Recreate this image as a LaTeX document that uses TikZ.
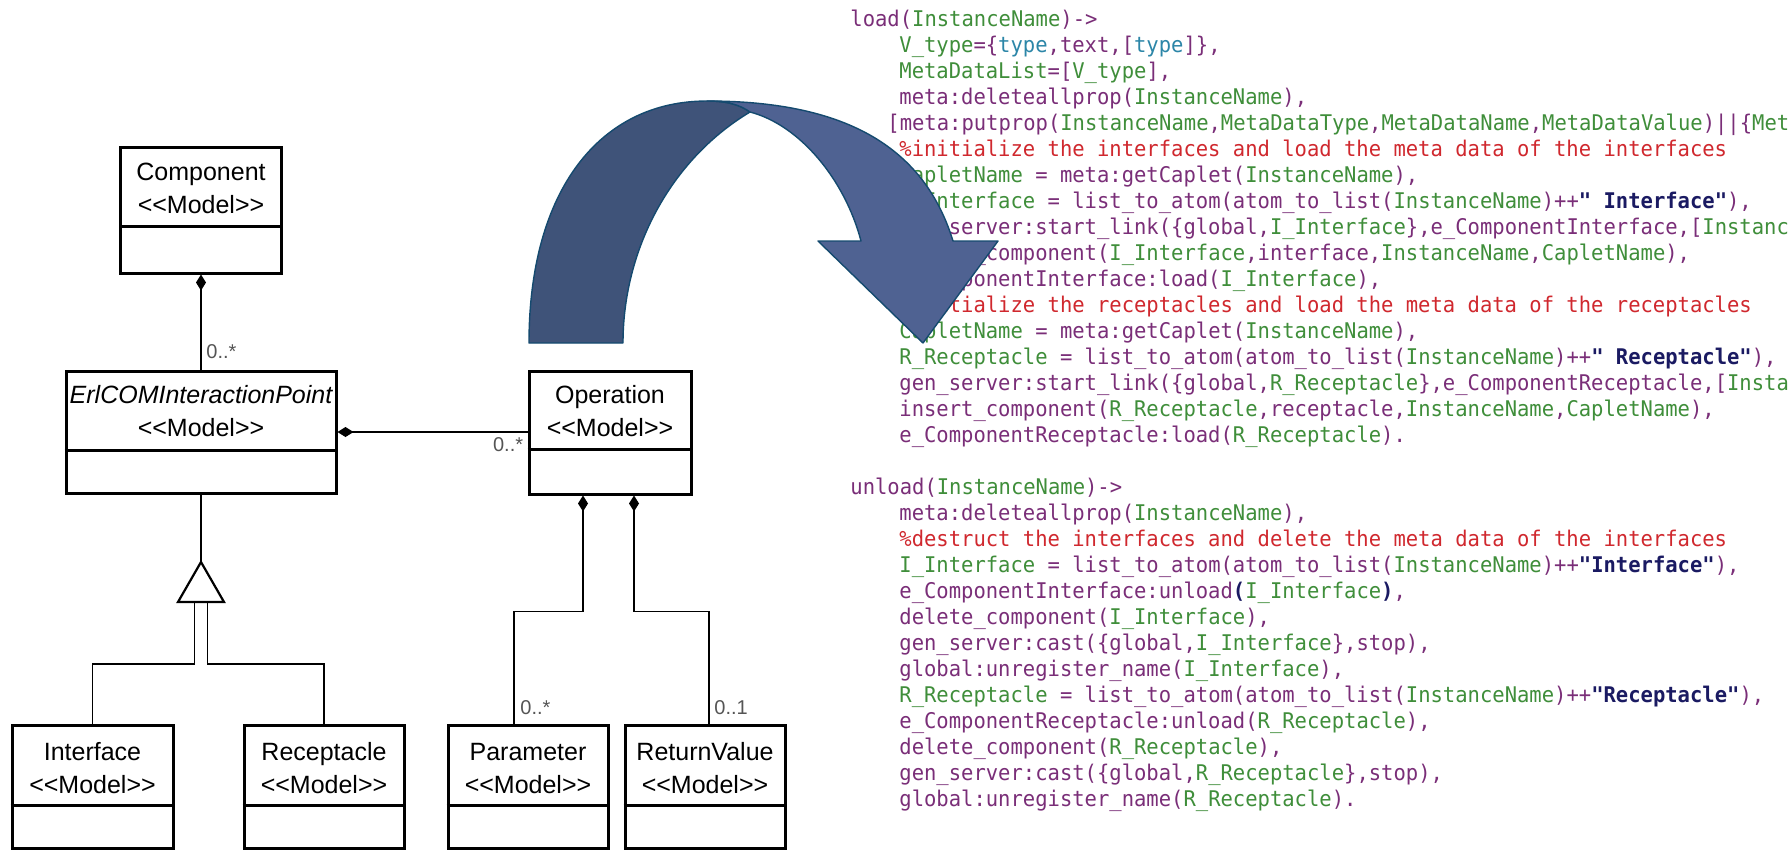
\documentclass[tikz,border=0pt]{standalone}
\usepackage{fontspec}
\setmainfont{Liberation Sans}
\newfontfamily\codefont{DejaVu Sans Mono}[FakeStretch=0.95]
\usetikzlibrary{arrows.meta,calc}

% syntax colours of the Erlang listing
\definecolor{codeatom}{HTML}{7A2E78}
\definecolor{codevar}{HTML}{3F8E3A}
\definecolor{codetype}{HTML}{2C86A8}
\definecolor{codestr}{HTML}{1A1A62}
\definecolor{codecom}{HTML}{D0282E}
% curved arrow colours
\definecolor{arrowdark}{HTML}{3F5379}
\definecolor{arrowlight}{HTML}{4F6292}
\definecolor{arrowline}{HTML}{154A6F}
\definecolor{multgray}{HTML}{555555}

\newcommand\cdA[1]{\textcolor{codeatom}{#1}}
\newcommand\cdV[1]{\textcolor{codevar}{#1}}
\newcommand\cdT[1]{\textcolor{codetype}{#1}}
\newcommand\cdS[1]{\textcolor{codestr}{\bfseries #1}}
\newcommand\cdC[1]{\textcolor{codecom}{#1}}
\newcommand\stereo{<\kern0pt<Model>\kern0pt>}

\begin{document}
\begin{tikzpicture}[x=0.5pt,y=-0.5pt,
  classbox/.style={draw, line width=1.5pt, inner sep=0pt, fill=white},
  classtitle/.style={align=center, inner sep=0pt,
    font=\fontsize{12.5pt}{16.5pt}\selectfont},
  conn/.style={line width=0.65pt},
  comptip/.style={{Diamond[length=8pt,width=5pt]}-},
  mult/.style={inner sep=0pt, text=multgray, font=\fontsize{10pt}{12pt}\selectfont},
  codeline/.style={anchor=base west, inner sep=0pt,
    font=\codefont\fontsize{10.8pt}{13pt}\selectfont\frenchspacing},
  arrowpart/.style={draw=arrowline, line width=0.7pt, line join=round}]

\useasboundingbox (0,0) rectangle (1791,853);
\fill[white] (0,0) rectangle (1791,853);

% ---------------- Erlang listing ----------------
\node[codeline] (l0)  at (850,26.5)  {\cdA{load(}\cdV{InstanceName}\cdA{)->}};
\node[codeline] (l1)  at (899,52.5)  {\cdV{V\_type}\cdA{=\{}\cdT{type}\cdA{,text,[}\cdT{type}\cdA{]\},}};
\node[codeline] (l2)  at (899,78.5)  {\cdV{MetaDataList}\cdA{=[}\cdV{V\_type}\cdA{],}};
\node[codeline] (l3)  at (899,104.5) {\cdA{meta:deleteallprop(}\cdV{InstanceName}\cdA{),}};
\node[codeline] (l4)  at (887,130.5) {\cdA{[meta:putprop(}\cdV{InstanceName}\cdA{,}\cdV{MetaDataType}\cdA{,}\cdV{MetaDataName}\cdA{,}\cdV{MetaDataValue}\cdA{)||\{}\cdV{Met}};
\node[codeline] (l5)  at (899,156.5) {\cdC{\%initialize the interfaces and load the meta data of the interfaces}};
\node[codeline] (l6)  at (899,182.5) {\cdV{CapletName} \cdA{= meta:getCaplet(}\cdV{InstanceName}\cdA{),}};
\node[codeline] (l7)  at (899,208.5) {\cdV{I\_Interface} \cdA{= list\_to\_atom(atom\_to\_list(}\cdV{InstanceName}\cdA{)++}\cdS{" Interface"}\cdA{),}};
\node[codeline] (l8)  at (899,234.5) {\cdA{gen\_server:start\_link(\{global,}\cdV{I\_Interface}\cdA{\},e\_ComponentInterface,[}\cdV{Instanc}};
\node[codeline] (l9)  at (899,260.5) {\cdA{insert\_component(}\cdV{I\_Interface}\cdA{,interface,}\cdV{InstanceName}\cdA{,}\cdV{CapletName}\cdA{),}};
\node[codeline] (l10) at (899,286.5) {\cdA{e\_ComponentInterface:load(}\cdV{I\_Interface}\cdA{),}};
\node[codeline] (l11) at (899,312.5) {\cdC{\%initialize the receptacles and load the meta data of the receptacles}};
\node[codeline] (l12) at (899,338.5) {\cdV{CapletName} \cdA{= meta:getCaplet(}\cdV{InstanceName}\cdA{),}};
\node[codeline] (l13) at (899,364.5) {\cdV{R\_Receptacle} \cdA{= list\_to\_atom(atom\_to\_list(}\cdV{InstanceName}\cdA{)++}\cdS{" Receptacle"}\cdA{),}};
\node[codeline] (l14) at (899,390.5) {\cdA{gen\_server:start\_link(\{global,}\cdV{R\_Receptacle}\cdA{\},e\_ComponentReceptacle,[}\cdV{Insta}};
\node[codeline] (l15) at (899,416.5) {\cdA{insert\_component(}\cdV{R\_Receptacle}\cdA{,receptacle,}\cdV{InstanceName}\cdA{,}\cdV{CapletName}\cdA{),}};
\node[codeline] (l16) at (899,442.5) {\cdA{e\_ComponentReceptacle:load(}\cdV{R\_Receptacle}\cdA{).}};
\node[codeline] (l18) at (850,494.5) {\cdA{unload(}\cdV{InstanceName}\cdA{)->}};
\node[codeline] (l19) at (899,520.5) {\cdA{meta:deleteallprop(}\cdV{InstanceName}\cdA{),}};
\node[codeline] (l20) at (899,546.5) {\cdC{\%destruct the interfaces and delete the meta data of the interfaces}};
\node[codeline] (l21) at (899,572.5) {\cdV{I\_Interface} \cdA{= list\_to\_atom(atom\_to\_list(}\cdV{InstanceName}\cdA{)++}\cdS{"Interface"}\cdA{),}};
\node[codeline] (l22) at (899,598.5) {\cdA{e\_ComponentInterface:unload}\cdS{(}\cdV{I\_Interface}\cdS{)}\cdA{,}};
\node[codeline] (l23) at (899,624.5) {\cdA{delete\_component(}\cdV{I\_Interface}\cdA{),}};
\node[codeline] (l24) at (899,650.5) {\cdA{gen\_server:cast(\{global,}\cdV{I\_Interface}\cdA{\},stop),}};
\node[codeline] (l25) at (899,676.5) {\cdA{global:unregister\_name(}\cdV{I\_Interface}\cdA{),}};
\node[codeline] (l26) at (899,702.5) {\cdV{R\_Receptacle} \cdA{= list\_to\_atom(atom\_to\_list(}\cdV{InstanceName}\cdA{)++}\cdS{"Receptacle"}\cdA{),}};
\node[codeline] (l27) at (899,728.5) {\cdA{e\_ComponentReceptacle:unload(}\cdV{R\_Receptacle}\cdA{),}};
\node[codeline] (l28) at (899,754.5) {\cdA{delete\_component(}\cdV{R\_Receptacle}\cdA{),}};
\node[codeline] (l29) at (899,780.5) {\cdA{gen\_server:cast(\{global,}\cdV{R\_Receptacle}\cdA{\},stop),}};
\node[codeline] (l30) at (899,806.5) {\cdA{global:unregister\_name(}\cdV{R\_Receptacle}\cdA{).}};

% ---------------- UML classes ----------------
\node[classbox, minimum width=80.5pt, minimum height=63pt] (comp) at (201,210) {};
\node[classbox, minimum width=135pt, minimum height=61pt] (erl) at (201,432) {};
\node[classbox, minimum width=81pt, minimum height=61.5pt] (op) at (610,432.5) {};
\node[classbox, minimum width=80.5pt, minimum height=61.5pt] (iface) at (92.5,786.5) {};
\node[classbox, minimum width=80pt, minimum height=61.5pt] (recep) at (324,786.5) {};
\node[classbox, minimum width=80pt, minimum height=61.5pt] (param) at (528,786.5) {};
\node[classbox, minimum width=80pt, minimum height=61.5pt] (ret) at (705,786.5) {};

\foreach \c/\d in {comp/81,erl/81,op/80,iface/82,recep/82,param/82,ret/82}
  \draw[line width=1.5pt] ($(\c.north west)+(0,\d)$) -- ($(\c.north east)+(0,\d)$);

\node[classtitle] (comp-t)  at ($(comp.north)+(0,43)$)  {Component\\\stereo};
\node[classtitle] (erl-t)   at ($(erl.north)+(0,42)$)   {\itshape ErlCOMInteractionPoint\\\stereo};
\node[classtitle] (op-t)    at ($(op.north)+(0,42)$)    {Operation\\\stereo};
\node[classtitle] (iface-t) at ($(iface.north)+(0,45)$) {Interface\\\stereo};
\node[classtitle] (recep-t) at ($(recep.north)+(0,45)$) {Receptacle\\\stereo};
\node[classtitle] (param-t) at ($(param.north)+(0,45)$) {Parameter\\\stereo};
\node[classtitle] (ret-t)   at ($(ret.north)+(0,45)$)   {ReturnValue\\\stereo};

% ---------------- associations ----------------
\draw[conn, comptip] (comp.south) -- (erl.north);
\node[mult, anchor=base west] (m-comp) at ($(erl.north)+(5,-11)$) {0..*};

\draw[conn, comptip] (erl.east) -- (erl.east -| op.west);
\node[mult, anchor=base east] (m-op) at ($(op.west)+(-4,19)$) {0..*};

% generalisation
\coordinate (gtip) at (201,562);
\coordinate (gbase) at (201,602);
\draw[conn] (erl.south) -- (gtip);
\draw[line width=1.1pt, line join=miter] ($(gbase)+(-23,0)$) -- (gtip) -- ($(gbase)+(23,0)$) -- cycle;
\draw[conn] ($(gbase)+(-6.5,0)$) -- ++(0,62) -| (iface.north);
\draw[conn] ($(gbase)+(6.5,0)$) -- ++(0,62) -| (recep.north);

% operation parts
\draw[conn, comptip] ($(op.south)+(-27,0)$) -- ++(0,116) -| ($(param.north)+(-14,0)$);
\draw[conn, comptip] ($(op.south)+(24,0)$) -- ++(0,116) -| ($(ret.north)+(4,0)$);
\node[mult, anchor=base west] (m-param) at ($(param.north)+(-8,-9)$) {0..*};
\node[mult, anchor=base west] (m-ret) at ($(ret.north)+(9,-9)$) {0..1};

% ---------------- curved arrow ----------------
\fill[arrowdark, arrowpart]
  (529,343) .. controls (529,190) and (600,101) .. (707,101)
  .. controls (728,101) and (740,105) .. (750,112)
  .. controls (670,160) and (623,250) .. (623,343) -- cycle;
\fill[arrowlight, arrowpart]
  (707,101) .. controls (850,101) and (925,150) .. (953,241)
  -- (998,241) -- (923,343) -- (818,241) -- (861,241)
  .. controls (845,180) and (800,125) .. (750,112)
  .. controls (740,105) and (728,101) .. (707,101) -- cycle;
\end{tikzpicture}
\end{document}
